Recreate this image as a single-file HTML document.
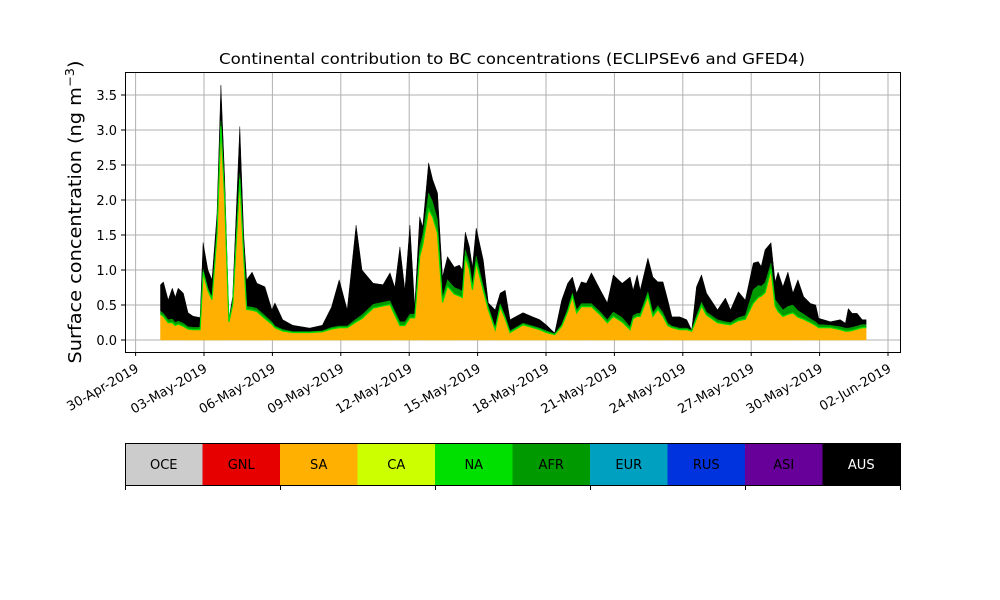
<!DOCTYPE html>
<html><head><meta charset="utf-8"><style>
body{margin:0;background:#fff;}
svg{display:block;font-family:"DejaVu Sans","Liberation Sans",sans-serif;}
</style></head><body>
<svg id="chart" width="1000" height="600" viewBox="0 0 1000 600">
<text x="512" y="64" font-size="15" text-anchor="middle" textLength="586" lengthAdjust="spacingAndGlyphs">Continental contribution to BC concentrations (ECLIPSEv6 and GFED4)</text>
<text transform="translate(81,212) rotate(-90)" font-size="18" text-anchor="middle" textLength="303" lengthAdjust="spacingAndGlyphs">Surface concentration (ng m<tspan baseline-shift="super" font-size="12">−3</tspan>)</text>
<g id="grid"></g>
<g id="areas"></g>
<rect x="125.5" y="72.5" width="775" height="280" fill="none" stroke="#000" stroke-width="1"/>
<g id="yticks"></g>
<g id="xticks"></g>
<g id="colorbar"></g>
</svg>
<script>
const days=[1.09,1.22,1.43,1.61,1.74,1.87,2.09,2.30,2.52,2.83,2.96,3.17,3.35,3.57,3.74,3.91,4.09,4.26,4.57,4.74,4.87,5.11,5.32,5.67,5.98,6.11,6.45,6.89,7.63,8.19,8.59,8.93,9.28,9.67,9.93,10.42,10.85,11.16,11.37,11.59,11.81,12.03,12.24,12.46,12.59,12.85,13.03,13.24,13.46,13.68,13.98,14.20,14.33,14.46,14.64,14.77,14.94,15.25,15.47,15.77,15.99,16.21,16.42,16.99,17.42,17.73,18.03,18.38,18.69,18.95,19.16,19.34,19.55,19.77,19.99,20.39,20.69,20.95,21.34,21.69,21.82,22.00,22.13,22.47,22.69,22.91,23.13,23.34,23.52,23.87,24.17,24.39,24.60,24.82,25.04,25.52,25.87,26.09,26.44,26.74,27.09,27.31,27.44,27.61,27.87,28.05,28.18,28.39,28.61,28.83,29.05,29.30,29.61,29.83,29.96,30.48,30.91,31.13,31.26,31.43,31.65,31.87,32.04];
const total=[.79,.83,.57,.74,.61,.74,.67,.39,.34,.32,1.39,1.0,.86,1.8,3.64,2.3,.29,.62,3.05,1.5,.86,.97,.81,.76,.43,.53,.29,.21,.17,.21,.47,.86,.43,1.64,1.0,.81,.79,.96,.75,1.33,.71,1.64,.47,1.76,1.61,2.53,2.29,2.1,.9,1.19,1.04,1.07,1.0,1.54,1.33,1.04,1.6,1.14,.53,.43,.67,.71,.29,.39,.33,.29,.21,.1,.57,.81,.9,.67,.83,.81,.96,.71,.53,.93,.81,.9,.71,.93,.71,1.17,.9,.83,.83,.57,.33,.33,.29,.14,.76,.93,.67,.43,.6,.43,.69,.57,1.1,1.12,1.05,1.29,1.39,.83,.97,.76,.97,.67,.86,.62,.52,.5,.31,.26,.29,.24,.45,.38,.38,.29,.29];
const sa=[.36,.33,.24,.24,.2,.22,.19,.15,.14,.14,.96,.7,.57,1.5,3.05,2.0,.25,.5,2.3,1.2,.43,.42,.4,.3,.22,.17,.12,.1,.1,.11,.15,.17,.17,.25,.3,.45,.48,.5,.35,.2,.2,.31,.31,1.19,1.35,1.86,1.75,1.52,.53,.76,.65,.62,.6,1.19,1.0,.71,1.1,.7,.43,.14,.47,.3,.1,.21,.17,.14,.1,.07,.19,.4,.62,.38,.47,.47,.47,.35,.24,.33,.25,.14,.3,.33,.33,.62,.33,.43,.33,.2,.17,.14,.14,.12,.3,.48,.35,.24,.22,.21,.27,.29,.52,.6,.62,.67,1.0,.48,.4,.33,.36,.38,.32,.29,.24,.2,.17,.17,.14,.12,.12,.13,.15,.17,.17];
const afr=[.05,.05,.05,.06,.05,.05,.05,.04,.04,.04,.05,.04,.04,.05,.08,.06,.03,.04,.08,.05,.05,.05,.05,.05,.04,.03,.03,.02,.02,.02,.03,.03,.03,.05,.06,.06,.06,.06,.06,.06,.06,.06,.06,.14,.15,.24,.22,.2,.08,.1,.1,.1,.1,.1,.1,.08,.1,.07,.05,.04,.05,.04,.03,.03,.03,.03,.03,.02,.03,.04,.05,.05,.05,.05,.05,.05,.05,.07,.07,.05,.05,.05,.05,.07,.06,.06,.06,.04,.03,.03,.03,.02,.05,.06,.05,.05,.04,.04,.05,.06,.2,.18,.15,.15,.1,.1,.12,.1,.12,.12,.1,.08,.06,.06,.05,.04,.05,.05,.05,.05,.05,.05,.05];
const yTicks=[0,0.5,1.0,1.5,2.0,2.5,3.0,3.5];
const xTickDays=[0,3,6,9,12,15,18,21,24,27,30,33];
const xTickLabels=["30-Apr-2019","03-May-2019","06-May-2019","09-May-2019","12-May-2019","15-May-2019","18-May-2019","21-May-2019","24-May-2019","27-May-2019","30-May-2019","02-Jun-2019"];
const regions=["OCE","GNL","SA","CA","NA","AFR","EUR","RUS","ASI","AUS"];
const regionColors=["#cccccc","#e60000","#ffb000","#ccff00","#00e000","#009900","#00a0c0","#0033dd","#660099","#000000"];

(function(){
const NS="http://www.w3.org/2000/svg";
const X=d=>135.6+22.8*d;
const Y=v=>340-70*v;
function mk(tag,attrs,parent){const e=document.createElementNS(NS,tag);for(const k in attrs)e.setAttribute(k,attrs[k]);parent.appendChild(e);return e;}
const grid=document.getElementById('grid'),areas=document.getElementById('areas');
const yg=document.getElementById('yticks'),xg=document.getElementById('xticks'),cb=document.getElementById('colorbar');

yTicks.forEach(v=>{
  const l=mk('line',{x1:125,x2:900,y1:Y(v),y2:Y(v),stroke:'#b0b0b0','stroke-width':1},grid);
  
  
  const t=mk('line',{x1:121,x2:125,y1:Y(v),y2:Y(v),stroke:'#000'},yg);
  
  
  const tx=mk('text',{x:117,y:Y(v)+5,'font-size':13,'text-anchor':'end'},yg);
  tx.textContent=v.toFixed(1);
  
  
});
xTickDays.forEach((d,i)=>{
  const l=mk('line',{x1:X(d),x2:X(d),y1:72,y2:352,stroke:'#b0b0b0','stroke-width':1},grid);
  
  
  const t=mk('line',{x1:X(d),x2:X(d),y1:352,y2:356,stroke:'#000'},xg);
  
  
  const tx=mk('text',{transform:`translate(${X(d)+4},${371}) rotate(-30)`,'font-size':13,'text-anchor':'end'},xg);
  tx.textContent=xTickLabels[i];
  
  
});

const n=Math.min(days.length,total.length,sa.length,afr.length);
function band(lo,hi,color,name){
  let p='M';
  for(let i=0;i<n;i++)p+=(i?'L':'')+X(days[i]).toFixed(1)+','+Y(hi[i]).toFixed(1);
  for(let i=n-1;i>=0;i--)p+='L'+X(days[i]).toFixed(1)+','+Y(lo[i]).toFixed(1);
  const e=mk('path',{d:p+'Z',fill:color,stroke:color,'stroke-width':0.5},areas);
  
  
}
const zeroArr=sa.map(()=>0);
const afrTop=sa.map((v,i)=>v+afr[i]);
const stackTop=total.map((v,i)=>Math.max(v,afrTop[i]||0));
band(afrTop,stackTop,'#000000','aus-area');
band(sa,afrTop,'#009900','afr-area');
band(zeroArr,sa,'#ffb000','sa-area');
let pts=[];
for(let i=0;i<n;i++)pts.push(X(days[i]).toFixed(1)+','+(Y(sa[i])-0.5).toFixed(1));
const naLine=mk('polyline',{points:pts.join(' '),fill:'none',stroke:'#00e000','stroke-width':1.2},areas);



const cw=77.5;
regions.forEach((r,i)=>{
  const rc=mk('rect',{x:125+i*cw,y:443,width:cw+0.5,height:42,fill:regionColors[i]},cb);
  
  
  const t=mk('text',{x:125+i*cw+cw/2,y:469,'font-size':13,'text-anchor':'middle',fill:(r==='AUS'?'#fff':'#000')},cb);
  t.textContent=r;
  
  
});
const fr=mk('rect',{x:125.5,y:443.5,width:775,height:42,fill:'none',stroke:'#000'},cb);


[0,2,4,6,8,10].forEach(k=>{
  const t=mk('line',{x1:125.5+k*cw,x2:125.5+k*cw,y1:485,y2:490,stroke:'#000'},cb);
  
  
});
})();
</script>
</body></html>
